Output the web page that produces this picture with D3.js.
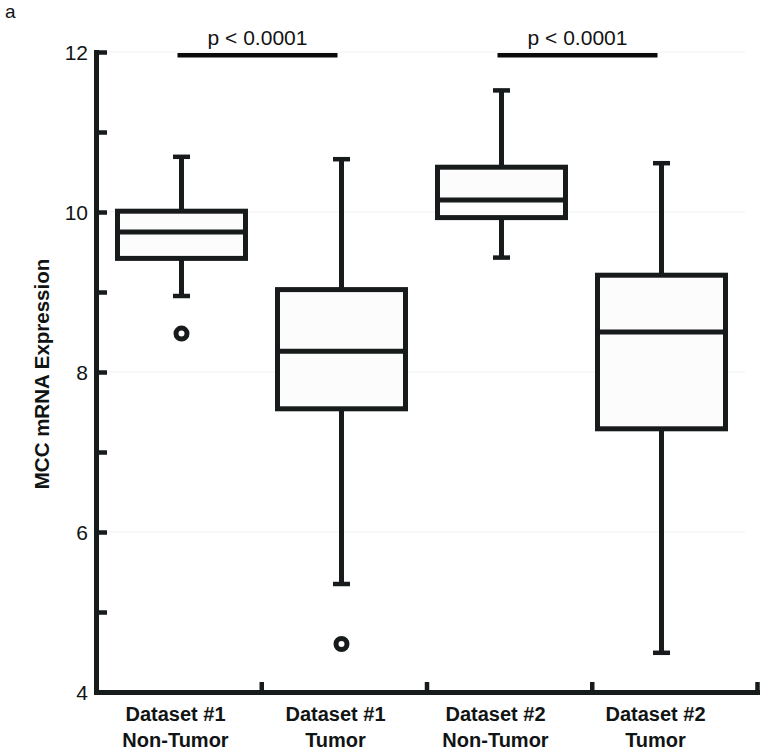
<!DOCTYPE html>
<html>
<head>
<meta charset="utf-8">
<script src="https://cdn.jsdelivr.net/npm/d3@7"></script>
<style>
  html, body { margin: 0; padding: 0; background: #ffffff; }
  svg { display: block; }
  text { font-family: "Liberation Sans", Arial, Helvetica, sans-serif; fill: #111414; }
</style>
</head>
<body>
<svg id="chart" width="764" height="752"></svg>
<script>
// ---- data ----
const categories = ["D1N", "D1T", "D2N", "D2T"];
const labelLine1 = ["Dataset #1", "Dataset #1", "Dataset #2", "Dataset #2"];
const labelLine2 = ["Non-Tumor", "Tumor", "Non-Tumor", "Tumor"];
const whiskerLow  = [8.95, 5.35, 9.43, 4.49];
const q1          = [9.42, 7.54, 9.93, 7.29];
const median      = [9.75, 8.26, 10.15, 8.50];
const q3          = [10.01, 9.03, 10.56, 9.21];
const whiskerHigh = [10.69, 10.66, 11.52, 10.61];
const outliers    = [[8.48], [4.60], [], []];
const yMajorTicks = [4, 6, 8, 10, 12];
const yMinorTicks = [5, 7, 9, 11];
const compFrom  = [0, 2];
const compTo    = [1, 3];
const compLabel = ["p < 0.0001", "p < 0.0001"];
const compLevel = [11.96, 11.96];
const yTitle = "MCC mRNA Expression";
const panelLabel = "a";

// ---- layout ----
const ink = "#171b1b";
const svg = d3.select("#chart");
const y = d3.scaleLinear().domain([4, 12]).range([692, 52]);
const xAxisScale = d3.scaleLinear().domain([0, categories.length]).range([96, 757]);
const xBox = d3.scalePoint().domain(categories).range([181.5, 661.5]);
const boxW = 128, capW = 17, sw = 5;

// faint gridlines
svg.append("g").selectAll("line").data(yMajorTicks.filter(d => d > 4)).join("line")
  .attr("x1", 100).attr("x2", 745)
  .attr("y1", d => y(d)).attr("y2", d => y(d))
  .attr("stroke", "#f4f4f4").attr("stroke-width", 1.5);

// boxes
const g = svg.append("g");
categories.forEach((c, i) => {
  const cx = xBox(c);
  g.append("line").attr("x1", cx).attr("x2", cx)
    .attr("y1", y(q3[i])).attr("y2", y(whiskerHigh[i]))
    .attr("stroke", ink).attr("stroke-width", sw);
  g.append("line").attr("x1", cx).attr("x2", cx)
    .attr("y1", y(q1[i])).attr("y2", y(whiskerLow[i]))
    .attr("stroke", ink).attr("stroke-width", sw);
  [whiskerHigh[i], whiskerLow[i]].forEach(v => {
    g.append("line").attr("x1", cx - capW / 2).attr("x2", cx + capW / 2)
      .attr("y1", y(v)).attr("y2", y(v))
      .attr("stroke", ink).attr("stroke-width", 4.5);
  });
  g.append("rect").attr("x", cx - boxW / 2).attr("width", boxW)
    .attr("y", y(q3[i])).attr("height", y(q1[i]) - y(q3[i]))
    .attr("fill", "#fcfcfc").attr("stroke", ink).attr("stroke-width", sw);
  g.append("line").attr("x1", cx - boxW / 2).attr("x2", cx + boxW / 2)
    .attr("y1", y(median[i])).attr("y2", y(median[i]))
    .attr("stroke", ink).attr("stroke-width", sw);
  outliers[i].forEach(v => {
    g.append("circle").attr("cx", cx).attr("cy", y(v)).attr("r", 5.5)
      .attr("fill", "#ffffff").attr("stroke", ink).attr("stroke-width", 5);
  });
});

// y axis
const yAxis = svg.append("g").attr("transform", "translate(96,0)")
  .call(d3.axisLeft(y).tickValues(yMajorTicks).tickSize(-11).tickSizeOuter(0).tickPadding(8));
const yMinor = svg.append("g").attr("transform", "translate(96,0)")
  .call(d3.axisLeft(y).tickValues(yMinorTicks).tickSize(-11).tickSizeOuter(0).tickFormat(""));
[yAxis, yMinor].forEach(ax => {
  ax.select(".domain").attr("stroke", ink).attr("stroke-width", sw).attr("stroke-linecap", "square");
  ax.selectAll(".tick line").attr("stroke", ink).attr("stroke-width", 4.5);
});
yAxis.selectAll(".tick text").attr("font-size", 21).attr("fill", "#111414")
  .attr("font-family", "'Liberation Sans', Arial, sans-serif").attr("dy", "0.36em").attr("x", -8);

// x axis
const xAxis = svg.append("g").attr("transform", "translate(0,692)")
  .call(d3.axisBottom(xAxisScale).tickValues(d3.range(1, categories.length + 1))
    .tickSize(-10).tickSizeOuter(0).tickFormat(""));
xAxis.select(".domain").attr("stroke", ink).attr("stroke-width", sw).attr("stroke-linecap", "square");
xAxis.selectAll(".tick line").attr("stroke", ink).attr("stroke-width", 4.5);

// x labels
const lab = svg.append("g");
categories.forEach((c, i) => {
  const t = lab.append("text").attr("text-anchor", "middle")
    .attr("font-size", 20).attr("font-weight", "bold");
  t.append("tspan").attr("x", xBox(c) - 6).attr("y", 721).text(labelLine1[i]);
  t.append("tspan").attr("x", xBox(c) - 6).attr("y", 747).text(labelLine2[i]);
});

// significance bars
compFrom.forEach((f, k) => {
  const x1 = xBox(categories[f]) - 4, x2 = xBox(categories[compTo[k]]) - 4;
  svg.append("line").attr("x1", x1).attr("x2", x2)
    .attr("y1", y(compLevel[k])).attr("y2", y(compLevel[k]))
    .attr("stroke", "#0a0a0a").attr("stroke-width", 4.5);
  svg.append("text").attr("x", (x1 + x2) / 2).attr("y", 45)
    .attr("text-anchor", "middle").attr("font-size", 21).text(compLabel[k]);
});

// y title
svg.append("text").attr("transform", "translate(49,374) rotate(-90)")
  .attr("text-anchor", "middle").attr("font-size", 20.5).attr("font-weight", "bold")
  .text(yTitle);

// panel label
svg.append("text").attr("x", 5).attr("y", 18).attr("font-size", 19).text(panelLabel);
</script>
</body>
</html>
